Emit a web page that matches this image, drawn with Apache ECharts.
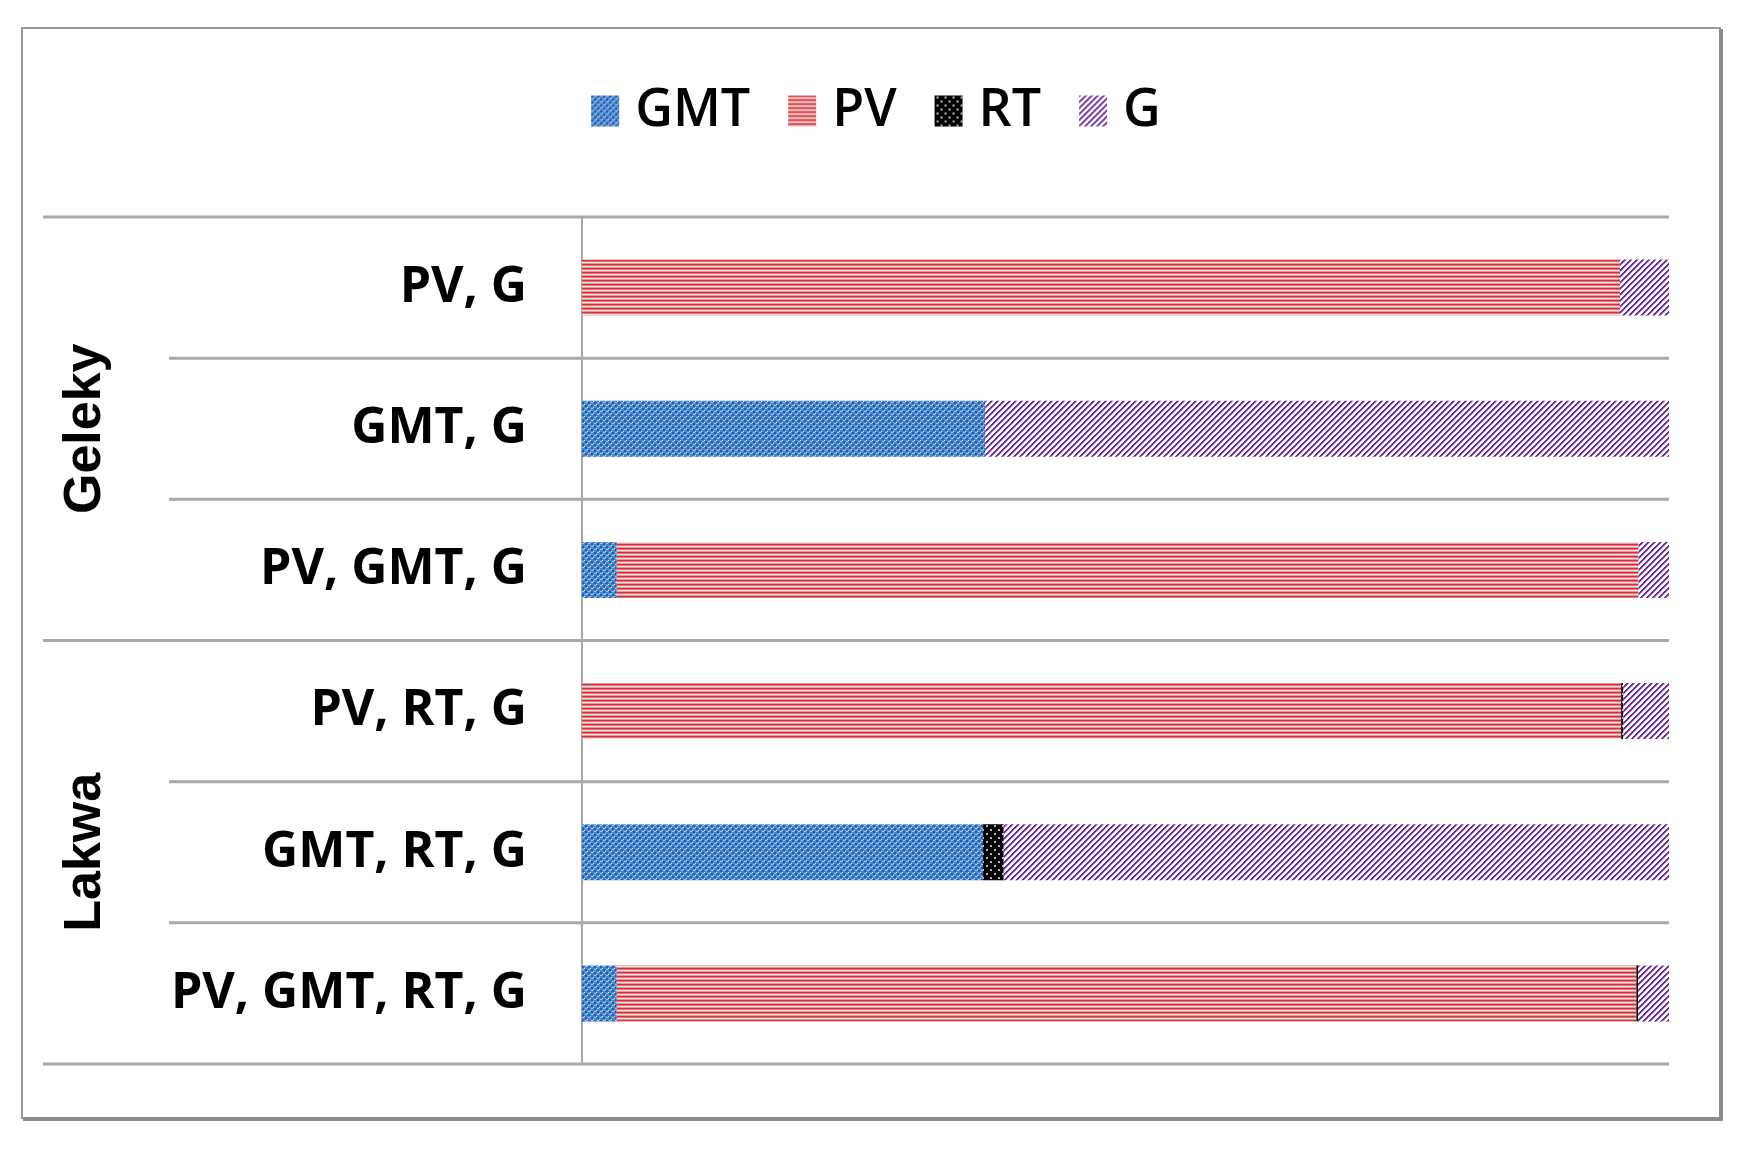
<!DOCTYPE html>
<html>
<head>
<meta charset="utf-8">
<script src="https://cdn.jsdelivr.net/npm/echarts@6/dist/echarts.min.js"></script>
<style>html,body{margin:0;padding:0;background:#fff;}#c{width:1752px;height:1152px;}</style>
</head>
<body>
<div id="c"></div>
<script>
// ---- data ----
var categories = ['PV, G', 'GMT, G', 'PV, GMT, G', 'PV, RT, G', 'GMT, RT, G', 'PV, GMT, RT, G'];
var groups = ['Geleky', 'Lakwa'];
var groupSpans = [[0, 2], [3, 5]];
var seriesNames = ['GMT', 'PV', 'RT', 'G'];
var gmtValues = [0, 37.1, 3.2, 0, 36.9, 3.2];
var pvValues  = [95.5, 0, 94.0, 95.6, 0, 93.8];
var rtValues  = [0, 0, 0, 0.2, 1.9, 0.15];
var gValues   = [4.5, 62.9, 2.8, 4.2, 61.2, 2.85];

// ---- patterns ----
function tile(w, h, base, draw) {
  var c = document.createElement('canvas');
  c.width = w; c.height = h;
  var ctx = c.getContext('2d');
  if (base) { ctx.fillStyle = base; ctx.fillRect(0, 0, w, h); }
  draw(ctx);
  return c;
}
function px(ctx, col, x, y, w, h) { ctx.fillStyle = col; ctx.fillRect(x, y, w || 1, h || 1); }

var gmtTile = tile(6, 6, '#4a86cc', function (ctx) {
  px(ctx, '#1f5fb3', 0, 0, 2, 2); px(ctx, '#1f5fb3', 3, 3, 2, 2);
  px(ctx, '#dbe7f6', 2, 2); px(ctx, '#dbe7f6', 5, 5);
  px(ctx, '#a9c5ea', 3, 0, 2, 1); px(ctx, '#a9c5ea', 0, 3, 2, 1);
});
var pvTile = tile(4, 4, null, function (ctx) {
  px(ctx, '#d42e36', 0, 0, 4, 1);
  px(ctx, '#e0787c', 0, 1, 4, 1);
  px(ctx, '#fae2e2', 0, 2, 4, 1);
  px(ctx, '#e69799', 0, 3, 4, 1);
});
var rtTile = tile(8, 8, '#000000', function (ctx) {
  px(ctx, '#b8b8b8', 2, 1, 2, 2);
  px(ctx, '#b8b8b8', 6, 5, 2, 2);
});
var gTile = tile(6, 6, '#ffffff', function (ctx) {
  for (var y = 0; y < 6; y++) {
    var x = ((5 - y) % 6 + 6) % 6;
    px(ctx, '#6a25a0', x, y, 1, 1);
    px(ctx, '#6a25a0', (x + 1) % 6, y, 1, 1);
    px(ctx, '#b08fd0', (x + 2) % 6, y, 1, 1);
  }
});
var patterns = [gmtTile, pvTile, rtTile, gTile].map(function (t) { return { image: t, repeat: 'repeat' }; });
var valueSets = [gmtValues, pvValues, rtValues, gValues];

var chart = echarts.init(document.getElementById('c'), null, { renderer: 'canvas' });

var option = {
  animation: false,
  backgroundColor: '#ffffff',
  legend: {
    data: seriesNames,
    top: 80,
    left: 'center',
    itemWidth: 28,
    itemHeight: 31,
    itemGap: 38,
    textStyle: { fontFamily: 'Open Sans', fontSize: 52, color: '#000', fontWeight: 600, padding: [0, 0, 0, 11] },
    icon: 'rect'
  },
  grid: { left: 582, right: 83, top: 217, bottom: 88, containLabel: false },
  xAxis: {
    type: 'value', min: 0, max: 100,
    show: false
  },
  yAxis: {
    type: 'category',
    data: categories,
    inverse: true,
    axisLine: { show: true, lineStyle: { color: '#a6a6a6', width: 2 } },
    axisTick: { show: false },
    splitLine: { show: false },
    axisLabel: { fontFamily: 'Open Sans', fontSize: 50, fontWeight: 'bold', color: '#000', margin: 55 }
  },
  series: seriesNames.map(function (name, i) {
    return {
      name: name,
      type: 'bar',
      stack: 'total',
      barWidth: 56,
      data: valueSets[i],
      itemStyle: { color: patterns[i] },
      emphasis: { disabled: true }
    };
  })
};
chart.setOption(option);

// ---- decorations derived from the axis ----
var c0 = chart.convertToPixel({ yAxisIndex: 0 }, categories[0]);
var c1 = chart.convertToPixel({ yAxisIndex: 0 }, categories[1]);
var band = c1 - c0;
var xRight = chart.convertToPixel({ xAxisIndex: 0 }, 100);
var graphics = [];
// outer frame
graphics.push({ type: 'rect', shape: { x: 22, y: 28, width: 1698, height: 1090 }, style: { fill: 'none', stroke: '#9a9a9a', lineWidth: 2 }, z: 0 });
graphics.push({ type: 'line', shape: { x1: 1721, y1: 29, x2: 1721, y2: 1120 }, style: { stroke: '#8c8c8c', lineWidth: 4 }, z: 0 });
graphics.push({ type: 'line', shape: { x1: 23, y1: 1119, x2: 1723, y2: 1119 }, style: { stroke: '#8c8c8c', lineWidth: 4 }, z: 0 });
var groupStarts = {};
groupSpans.forEach(function (s) { groupStarts[s[0]] = true; });
for (var k = 0; k <= categories.length; k++) {
  var y = c0 - band / 2 + k * band;
  var isGroup = (k === 0 || k === categories.length || groupStarts[k]);
  graphics.push({
    type: 'line',
    shape: { x1: isGroup ? 43 : 169, y1: y, x2: xRight, y2: y },
    style: { stroke: '#a9a9a9', lineWidth: 3 },
    z: 1
  });
}
groups.forEach(function (name, i) {
  var ya = chart.convertToPixel({ yAxisIndex: 0 }, categories[groupSpans[i][0]]);
  var yb = chart.convertToPixel({ yAxisIndex: 0 }, categories[groupSpans[i][1]]);
  graphics.push({
    type: 'text',
    x: 86, y: (ya + yb) / 2,
    rotation: Math.PI / 2,
    style: { text: name, fontFamily: 'Liberation Sans', fontWeight: 'bold', fontSize: 52, fill: '#000', align: 'center', verticalAlign: 'middle' },
    z: 5
  });
});
chart.setOption({ graphic: graphics });
</script>
</body>
</html>
